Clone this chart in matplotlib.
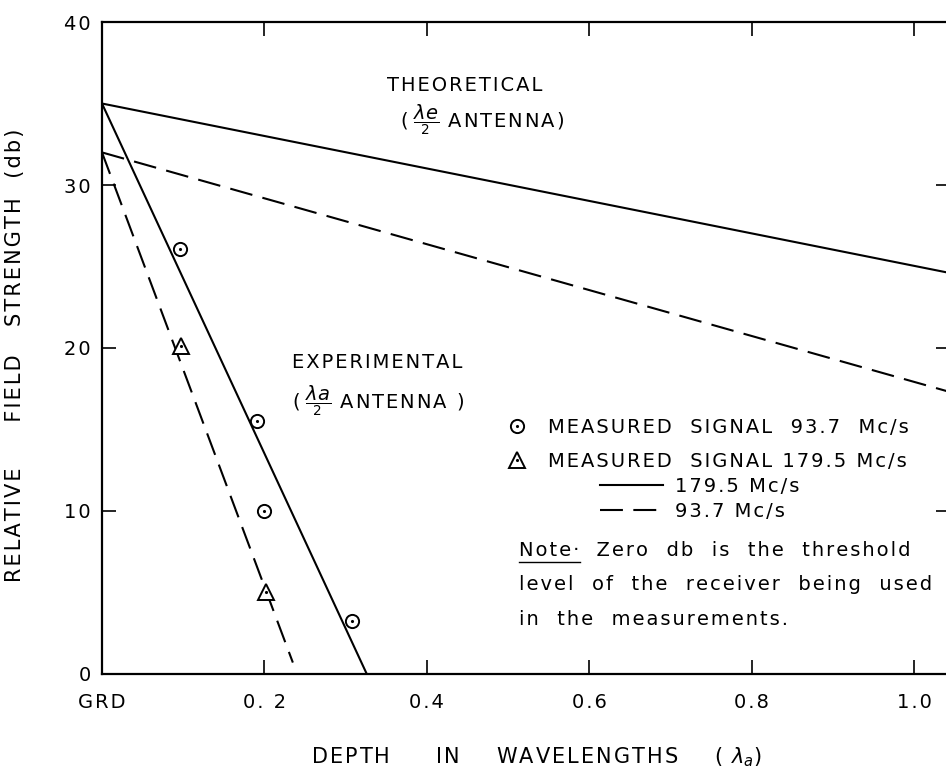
import matplotlib
matplotlib.use('Agg')
import matplotlib.pyplot as plt
from matplotlib.lines import Line2D

plt.rcParams['font.family'] = 'DejaVu Sans'
plt.rcParams['mathtext.fontset'] = 'dejavusans'

# straight lines, end points
theo_x = [0.0, 1.044]
theo_179 = [35.0, 24.6]
theo_937 = [32.0, 17.3]
exp179_x = [0.0, 0.326]
exp179_y = [35.0, 0.0]
exp937_x = [0.0, 0.235]
exp937_y = [32.0, 0.7]

# measured points
meas937_x = [0.096, 0.191, 0.200, 0.308]
meas937_y = [26.1, 15.5, 10.0, 3.25]
meas179_x = [0.097, 0.202]
meas179_y = [20.1, 5.0]

xticks = [0, 0.2, 0.4, 0.6, 0.8, 1.0]
xticklabels = ['GRD', '0. 2', '0.4', '0.6', '0.8', '1.0']
yticks = [0, 10, 20, 30, 40]
yticklabels = ['0', '10', '20', '30', '40']


def sp(s):
    # the old lettering is spread out, add a hair space between letters
    return '\u200a'.join(s)


fs = 14
lw = 1.5

fig = plt.figure(figsize=(9.46, 7.78), dpi=100)
ax = fig.add_axes([0.1078, 0.1337, 0.8964, 0.838])

ax.plot(theo_x, theo_179, color='black', lw=lw)
ax.plot(theo_x, theo_937, color='black', lw=lw, dashes=(11, 5))
l179, = ax.plot(exp179_x, exp179_y, color='black', lw=lw)
l937, = ax.plot(exp937_x, exp937_y, color='black', lw=lw, dashes=(11, 5))

c1, = ax.plot(meas937_x, meas937_y, ls='none', marker='o', ms=9.5,
              mfc='white', mec='black', mew=1.4)
d1, = ax.plot(meas937_x, meas937_y, ls='none', marker='.', ms=2.5, color='black')
t1, = ax.plot(meas179_x, meas179_y, ls='none', marker='^', ms=11,
              mfc='white', mec='black', mew=1.4)
d2, = ax.plot(meas179_x, meas179_y, ls='none', marker='.', ms=2.5, color='black')

ax.set_xlim(0, 1.044)
ax.set_ylim(0, 40)
ax.set_xticks(xticks)
ax.set_xticklabels([sp(t) for t in xticklabels])
ax.set_yticks(yticks)
ax.set_yticklabels([sp(t) for t in yticklabels])
ax.tick_params(direction='in', length=10, width=1.2, top=True, right=True,
               labelsize=fs)
ax.tick_params(axis='x', pad=14)
ax.tick_params(axis='y', pad=8)
for s in ax.spines.values():
    s.set_linewidth(1.6)

ax.set_ylabel(sp('RELATIVE     FIELD   STRENGTH  (db)'), fontsize=15)
ax.yaxis.set_label_coords(-0.091, 0.489)
ax.set_xlabel(sp('DEPTH     IN    WAVELENGTHS    ( ') + r'$\lambda_a$' + ')',
              fontsize=15, va='center')
ax.xaxis.set_label_coords(0.512, -0.127)

ax.text(0.351, 36.1, sp('THEORETICAL'), fontsize=fs, va='center')
ax.text(0.367, 34.0, '( ' + r'$\dfrac{\lambda e}{{}_2}$' + sp(' ANTENNA)'),
        fontsize=fs, va='center')
ax.text(0.234, 19.1, sp('EXPERIMENTAL'), fontsize=fs, va='center')
ax.text(0.234, 16.8, '( ' + r'$\dfrac{\lambda a}{{}_2}$' + sp(' ANTENNA )'),
        fontsize=fs, va='center')

leg1 = ax.legend(handles=[(c1, d1), (t1, d2)],
                 labels=[sp('MEASURED  SIGNAL  93.7  Mc/s'),
                         sp('MEASURED  SIGNAL 179.5 Mc/s')],
                 loc='upper left', bbox_to_anchor=(0.478, 0.393),
                 frameon=False, fontsize=fs, handlelength=1.0,
                 handletextpad=1.1, labelspacing=0.76,
                 borderpad=0, borderaxespad=0)
ax.add_artist(leg1)
ax.legend(handles=[l179, l937], labels=[sp('179.5 Mc/s'), sp('93.7 Mc/s')],
          loc='upper left', bbox_to_anchor=(0.587, 0.302),
          frameon=False, fontsize=fs, handlelength=3.25,
          handletextpad=0.62, labelspacing=0.3,
          borderpad=0, borderaxespad=0)

note = ax.text(0.514, 7.55, sp('Note') + '\u200a·', fontsize=fs, va='center')
ax.annotate(sp('  Zero  db  is  the  threshold'), xy=(1, 0.5), xycoords=note,
            fontsize=fs, va='center', ha='left')
ax.text(0.514, 5.46, sp('level  of  the  receiver  being  used'), fontsize=fs, va='center')
ax.text(0.514, 3.37, sp('in  the  measurements.'), fontsize=fs, va='center')

# underline "Note"
fig.canvas.draw()
bb = note.get_window_extent().transformed(fig.transFigure.inverted())
fig.add_artist(Line2D([bb.x0, bb.x1], [bb.y0 - 0.002, bb.y0 - 0.002],
                      color='black', lw=1.0, transform=fig.transFigure))

fig.savefig('out.png', dpi=100)
